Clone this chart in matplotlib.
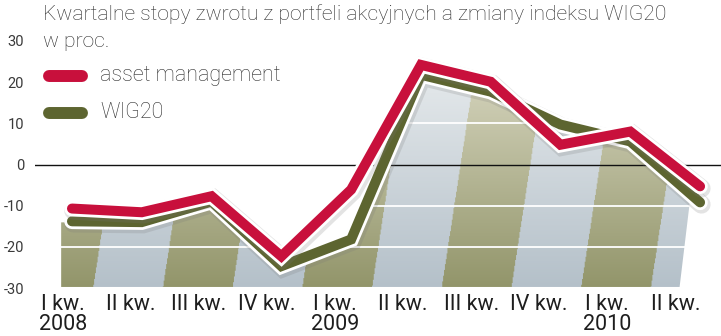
import numpy as np
import matplotlib
matplotlib.use("Agg")
import matplotlib.pyplot as plt
import matplotlib.patheffects as pe
from matplotlib.patches import Polygon
from matplotlib.lines import Line2D

plt.rcParams['font.family'] = ['Roboto', 'DejaVu Sans']

# data (kwartalne stopy zwrotu, %)
quarters = ["I kw.\n2008", "II kw.", "III kw.", "IV kw.", "I kw.\n2009",
            "II kw.", "III kw.", "IV kw.", "I kw.\n2010", "II kw."]
asset_mgmt = [-10.7, -11.6, -7.7, -22.3, -6.1, 24.2, 20.1, 4.8, 8.0, -5.3]
wig20 = [-13.8, -14.0, -9.0, -24.7, -18.2, 21.8, 17.7, 9.7, 5.6, -9.2]
yticks = [-30, -20, -10, 0, 10, 20, 30]

RED = "#c8103c"
GREEN = "#5d6530"
TXT = "#2b2b2b"

W, H = 721, 336
fig = plt.figure(figsize=(W / 100, H / 100), dpi=100)
ax = fig.add_axes([35 / W, (H - 288) / H, (W - 35) / W, (288 - 41) / H])
ax.set_xlim(-0.53, 9.30)
ax.set_ylim(-30, 30)
for s in ax.spines.values():
    s.set_visible(False)

x = np.arange(len(quarters))

# striped background area under WIG20
left, right_top, right_bot = -0.17, 8.88, 8.72
top_right = np.interp(right_top, x, wig20)
pts = [(left, -30), (left, wig20[0])]
pts += [(xi, yi) for xi, yi in zip(x[:-1], wig20[:-1])]
pts += [(right_top, top_right), (right_bot, -30)]
area = Polygon(pts, closed=True, facecolor="none", edgecolor="white", lw=1.5, zorder=2)
ax.add_patch(area)

gx = np.linspace(-0.53, 9.30, 800)
gy = np.linspace(-30, 30, 300)
XX, YY = np.meshgrid(gx, gy)
band = np.floor(XX - 0.3 - 0.009 * (YY + 30)).astype(int)
olive = (band % 2) != 0
t = np.clip((YY + 30) / 55, 0, 1)[..., None]
olive_bot, olive_top = np.array([146, 149, 106]), np.array([216, 215, 193])
light_bot, light_top = np.array([180, 192, 201]), np.array([231, 235, 237])
img = np.where(olive[..., None], olive_bot + (olive_top - olive_bot) * t,
               light_bot + (light_top - light_bot) * t) / 255
im = ax.imshow(img, extent=(-0.53, 9.30, -30, 30), origin="lower", aspect="auto", zorder=1)
im.set_clip_path(area)

# grid lines
for yv in [10, -10, -20]:
    ax.axhline(yv, color="white", lw=1.3, zorder=2.5)
ax.axhline(0, color="#111111", lw=1.0, zorder=3)


def fx(lw):
    return [pe.SimpleLineShadow(offset=(1, -1.5), shadow_color="#777777", alpha=0.2, linewidth=lw + 6),
            pe.Stroke(linewidth=lw + 4, foreground="white"),
            pe.Normal()]


lw = 7.2
ax.plot(x, wig20, color=GREEN, lw=lw, solid_capstyle="round", solid_joinstyle="miter",
        zorder=4, clip_on=False, path_effects=fx(lw))
ax.plot(x, asset_mgmt, color=RED, lw=lw, solid_capstyle="round", solid_joinstyle="miter",
        zorder=5, clip_on=False, path_effects=fx(lw))

# axes ticks
ax.set_yticks(yticks)
ax.set_yticklabels([str(v) for v in yticks], fontsize=10.5, color="#3a3a3a")
ax.set_xticks(x - 0.13 - 0.025 * x)
ax.set_xticklabels(quarters, fontsize=15.5, color="#1e1e1e", linespacing=0.95)
ax.tick_params(axis="y", length=0, pad=8)
ax.tick_params(axis="x", length=0, pad=4)

# title
fig.text(43 / W, 1 - 20 / H, "Kwartalne stopy zwrotu z portfeli akcyjnych a zmiany indeksu WIG20",
         fontsize=15.2, color=TXT, weight="light", va="baseline")
fig.text(43 / W, 1 - 47 / H, "w proc.", fontsize=15.2, color=TXT, weight="light", va="baseline")

# legend
for yy, col, lab in [(76, RED, "asset management"), (113, GREEN, "WIG20")]:
    fig.add_artist(Line2D([49 / W, 82 / W], [1 - yy / H, 1 - yy / H], color=col, lw=8.6,
                          solid_capstyle="round", transform=fig.transFigure))
    fig.text(100 / W, 1 - yy / H, lab, fontsize=15.5, color=TXT, weight="light", va="center")

fig.savefig("out.png", dpi=100)
